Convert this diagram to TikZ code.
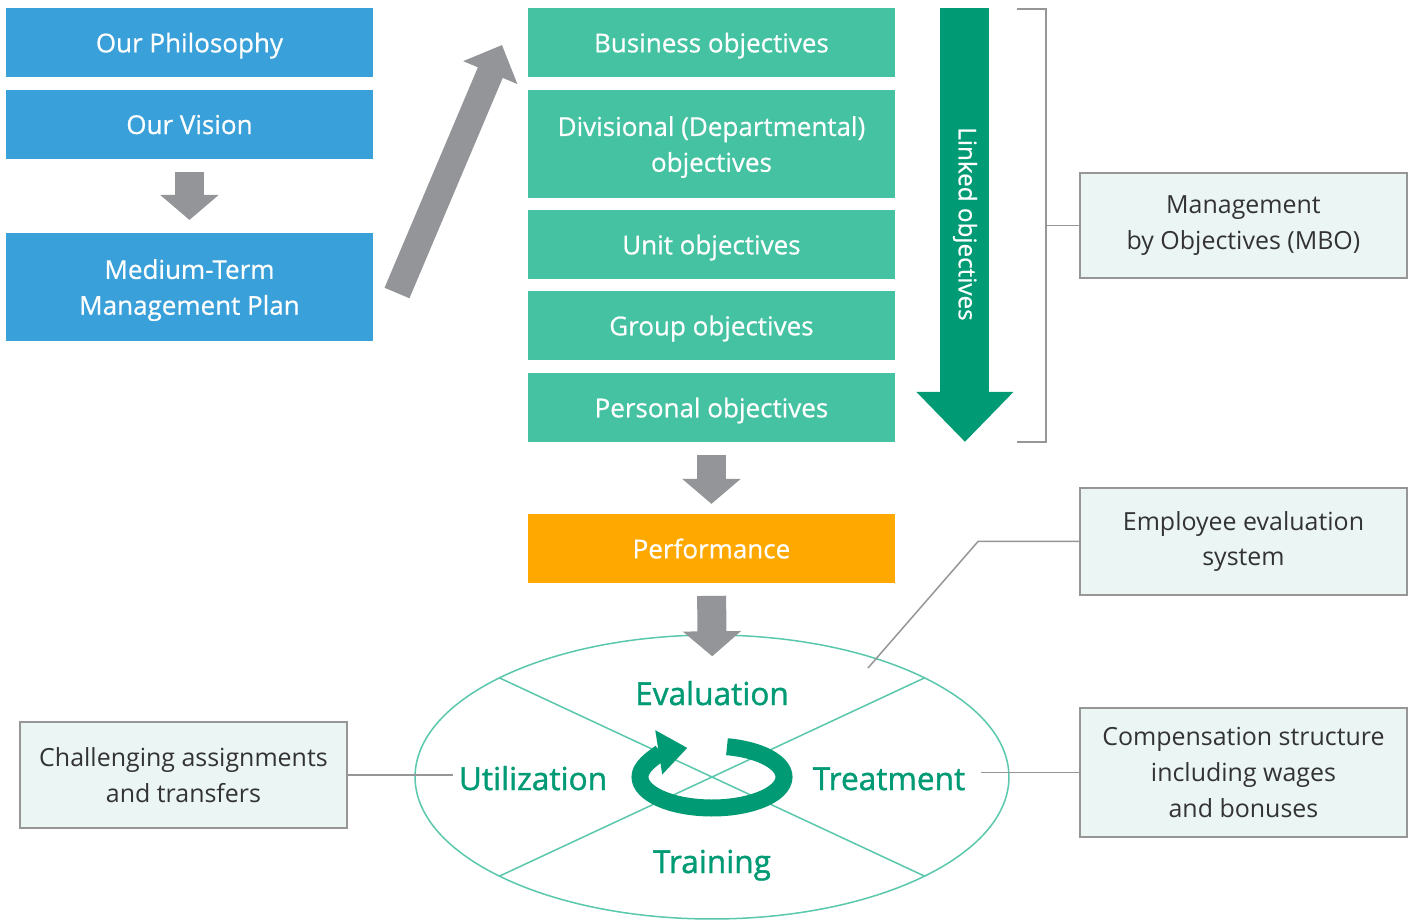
\documentclass[tikz,border=0pt]{standalone}
\usepackage{fontspec}
\setmainfont{Open Sans}
\newfontfamily\cycfont[FakeBold=1.2]{Open Sans}
\newfontfamily\boxfont[FakeBold=0.6]{Open Sans}
\usetikzlibrary{positioning,calc,arrows.meta,shapes.geometric}
\definecolor{vblue}{RGB}{58,160,217}
\definecolor{vteal}{RGB}{68,194,162}
\definecolor{vgreen}{RGB}{0,154,116}
\definecolor{vorange}{RGB}{255,168,0}
\definecolor{vgray}{RGB}{147,149,152}
\definecolor{vline}{RGB}{150,150,150}
\definecolor{vnote}{RGB}{235,245,244}
\definecolor{vring}{RGB}{90,200,172}
\definecolor{vtext}{RGB}{51,51,51}

\tikzset{
	objbox/.style={minimum width=7.34cm,minimum height=1.38cm,inner sep=0pt,outer sep=0pt,align=center,text=white,text depth=0pt,font=\boxfont\fontsize{14.8}{20.4}\selectfont},
	bluebox/.style={objbox,fill=vblue},
	tealbox/.style={objbox,fill=vteal},
	notebox/.style={draw=vline,line width=0.04cm,fill=vnote,minimum width=6.54cm,inner sep=0pt,outer sep=0pt,align=center,text=vtext,font=\fontsize{14.2}{20.4}\selectfont,anchor=north west},
	cyclabel/.style={text=vgreen,font=\cycfont\fontsize{18}{21}\selectfont,anchor=base},
	link/.style={draw=vline,line width=0.03cm},
	blockarrow/.style={draw=vgray,line width=0.58cm,-{Triangle[width=1.14cm,length=0.5cm]}},
}

\begin{document}
\begin{tikzpicture}[x=0.02cm,y=-0.02cm]
	\fill[white] (0,0) rectangle (1417,922);
	\useasboundingbox (0,0) rectangle (1417,922);

	\node[bluebox,anchor=north west] (phil) at (6,8) {Our Philosophy};
	\node[bluebox,below=0.26cm of phil] (vision) {Our Vision};
	\node[bluebox,below=1.48cm of vision,minimum height=2.16cm] (plan) {Medium-Term\\Management Plan};

	\node[tealbox,anchor=north west] (business) at (528,8) {Business objectives};
	\node[tealbox,below=0.26cm of business,minimum height=2.16cm] (division) {Divisional (Departmental)\\objectives};
	\node[tealbox,below=0.24cm of division] (unit) {Unit objectives};
	\node[tealbox,below=0.24cm of unit] (group) {Group objectives};
	\node[tealbox,below=0.26cm of group] (personal) {Personal objectives};
	\node[objbox,fill=vorange,below=1.44cm of personal] (perf) {Performance};

	\draw[blockarrow,shorten <=0.26cm,shorten >=0.26cm] (vision.south) -- (plan.north);
	\draw[blockarrow,shorten <=0.26cm,shorten >=0.2cm] (personal.south) -- (perf.north);
	\coordinate (upstart) at (397,293);
	\coordinate (upend) at (502,45);
	\draw[draw=vgray,line width=0.54cm,-{Triangle[width=1.14cm,length=0.6cm]}] (upstart) -- (upend);

	% linked objectives
	\draw[draw=vgreen,line width=0.98cm,-{Triangle[width=1.88cm,length=1cm]}] ($(business.north east)+(70,0)$) -- ($(personal.south east)+(70,0)$);
	\node[rotate=-90,text=white,font=\boxfont\fontsize{13.8}{16}\selectfont] (linked) at (965,224) {Linked objectives};
	\coordinate (brtop) at (1017,9);
	\coordinate (brbot) at (1017,442);
	\draw[link] (brtop) -- ++(29,0) |- (brbot);

	\node[notebox,minimum height=2.1cm] (mbo) at (1080,173) {Management\\by Objectives (MBO)};
	\draw[link] (mbo.west) -- ++(-34,0);
	\node[notebox,minimum height=2.14cm] (emp) at (1080,488) {Employee evaluation\\system};
	\node[notebox,minimum height=2.58cm] (comp) at (1080,708) {Compensation structure\\including wages\\and bonuses};
	\node[notebox,minimum height=2.12cm] (chal) at (20,722) {Challenging assignments\\and transfers};

	% evaluation cycle
	\node[draw=vring,line width=0.03cm,ellipse,minimum width=11.88cm,minimum height=5.68cm,inner sep=0pt] (wheel) at (712,777) {};
	\draw[draw=vring,line width=0.03cm] (wheel.155) -- (wheel.335) (wheel.25) -- (wheel.205);
	\draw[blockarrow,shorten <=0.26cm,shorten >=-0.44cm] (perf.south) -- (wheel.north);
	\draw[draw=vgreen,line width=0.34cm,-{Triangle[width=0.86cm,length=0.58cm]}] ([shift={(78:1.44cm and 0.62cm)}]wheel.center) arc[start angle=78,end angle=-250,x radius=1.44cm,y radius=0.62cm];

	\node[cyclabel] (eval) at (712,705) {Evaluation};
	\node[cyclabel] (util) at (533,790) {Utilization};
	\node[cyclabel] (treat) at (889,790) {Treatment};
	\node[cyclabel] (train) at (712,873) {Training};

	\draw[link] (chal.east) -- (chal.east -| util.west);
	\draw[link,shorten <=0.2cm] (comp.west -| treat.east) -- (comp.west);
	\coordinate (empend) at (868,668);
	\draw[link] (emp.west) -- ++(-102,0) -- (empend);
\end{tikzpicture}
\end{document}
